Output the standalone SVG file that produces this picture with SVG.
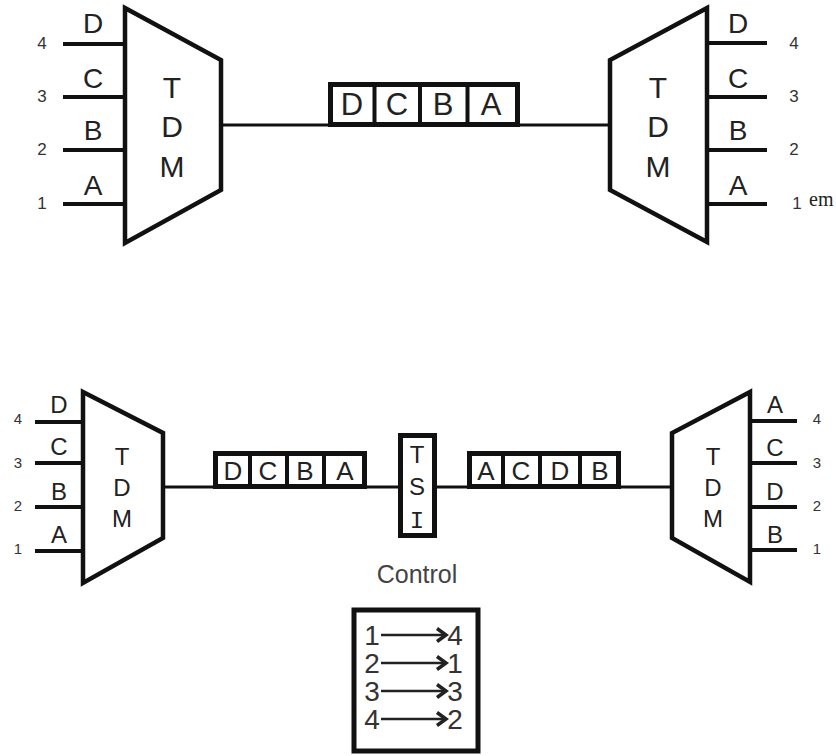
<svg xmlns="http://www.w3.org/2000/svg" width="836" height="756" viewBox="0 0 836 756">
<defs>
<style>
.tdm{fill:#fff;stroke:#111;stroke-width:4.5;stroke-linejoin:miter}
.ln{stroke:#111;stroke-width:4;fill:none}
.wire{stroke:#111;stroke-width:3;fill:none}
.box{fill:#fff;stroke:#111;stroke-width:5}
.t{font-family:"Liberation Sans",Arial,sans-serif;fill:#222;text-anchor:middle}
.big{font-size:30px}
.let{font-size:28px}
.num{font-size:17px;fill:#333}
.sm{font-size:24px}
.snum{font-size:15px;fill:#333}
.cell{font-size:31px}
.scell{font-size:26px}
.arrow{stroke:#222;stroke-width:2.5;fill:none}
</style>
<marker id="ah" markerWidth="14" markerHeight="16" refX="11" refY="8" orient="auto" markerUnits="userSpaceOnUse">
<path d="M2,1.5 L11,8 L2,14.5" fill="none" stroke="#222" stroke-width="3.5"/>
</marker>
</defs>
<rect width="836" height="756" fill="#fff"/>

<g id="connectors">
<line class="wire" x1="221" y1="125" x2="610" y2="125"/>
<line class="wire" x1="163" y1="487" x2="400" y2="487"/>
<line class="wire" x1="435" y1="487" x2="672" y2="487"/>
</g>

<g id="tdm-top-left">
<line class="ln" x1="63" y1="44" x2="125" y2="44"/>
<line class="ln" x1="63" y1="97" x2="125" y2="97"/>
<line class="ln" x1="63" y1="150" x2="125" y2="150"/>
<line class="ln" x1="63" y1="204" x2="125" y2="204"/>
<polygon class="tdm" points="125,8 221,60 221,190 125,243"/>
<text class="t big" x="172" y="98">T</text>
<text class="t big" x="172" y="137">D</text>
<text class="t big" x="172" y="177">M</text>
<text class="t let" x="93" y="33">D</text>
<text class="t let" x="93" y="88">C</text>
<text class="t let" x="93" y="140">B</text>
<text class="t let" x="93" y="195">A</text>
<text class="t num" x="42" y="49">4</text>
<text class="t num" x="42" y="102">3</text>
<text class="t num" x="42" y="155">2</text>
<text class="t num" x="42" y="209">1</text>
</g>

<g id="frame-top">
<rect class="box" x="330.5" y="84.5" width="187" height="40"/>
<line class="ln" x1="374.5" y1="84" x2="374.5" y2="124"/>
<line class="ln" x1="420" y1="84" x2="420" y2="124"/>
<line class="ln" x1="467.5" y1="84" x2="467.5" y2="124"/>
<text class="t cell" x="352" y="115">D</text>
<text class="t cell" x="397" y="115">C</text>
<text class="t cell" x="443" y="115">B</text>
<text class="t cell" x="491" y="115">A</text>
</g>

<g id="tdm-top-right">
<line class="ln" x1="707" y1="43" x2="767" y2="43"/>
<line class="ln" x1="707" y1="97" x2="767" y2="97"/>
<line class="ln" x1="707" y1="150" x2="767" y2="150"/>
<line class="ln" x1="707" y1="204" x2="767" y2="204"/>
<polygon class="tdm" points="707,8 610,60 610,190 707,242"/>
<text class="t big" x="658" y="98">T</text>
<text class="t big" x="658" y="137">D</text>
<text class="t big" x="658" y="177">M</text>
<text class="t let" x="738" y="33">D</text>
<text class="t let" x="738" y="88">C</text>
<text class="t let" x="738" y="140">B</text>
<text class="t let" x="738" y="195">A</text>
<text class="t num" x="794" y="49">4</text>
<text class="t num" x="794" y="102">3</text>
<text class="t num" x="794" y="155">2</text>
<text class="t num" x="797" y="209">1</text>
<text x="809" y="206" font-family="'Liberation Serif',serif" font-size="20" fill="#222">em</text>
</g>

<g id="tdm-bottom-left">
<line class="ln" x1="35" y1="422" x2="83" y2="422"/>
<line class="ln" x1="35" y1="463" x2="83" y2="463"/>
<line class="ln" x1="35" y1="507" x2="83" y2="507"/>
<line class="ln" x1="35" y1="551" x2="83" y2="551"/>
<polygon class="tdm" points="83,392 163,433 163,538 83,583"/>
<text class="t sm" x="122" y="465">T</text>
<text class="t sm" x="122" y="496">D</text>
<text class="t sm" x="122" y="527">M</text>
<text class="t sm" x="59" y="413">D</text>
<text class="t sm" x="59" y="455">C</text>
<text class="t sm" x="59" y="500">B</text>
<text class="t sm" x="59" y="543">A</text>
<text class="t snum" x="18" y="424">4</text>
<text class="t snum" x="18" y="468">3</text>
<text class="t snum" x="18" y="511">2</text>
<text class="t snum" x="18" y="554">1</text>
</g>

<g id="frame-bottom-left">
<rect class="box" x="215.5" y="453.5" width="149" height="33"/>
<line class="ln" x1="250" y1="453" x2="250" y2="487"/>
<line class="ln" x1="287" y1="453" x2="287" y2="487"/>
<line class="ln" x1="324" y1="453" x2="324" y2="487"/>
<text class="t scell" x="233" y="480">D</text>
<text class="t scell" x="268" y="480">C</text>
<text class="t scell" x="305" y="480">B</text>
<text class="t scell" x="345" y="480">A</text>
</g>

<g id="tsi">
<rect class="box" x="400.5" y="435.5" width="34" height="100"/>
<text class="t sm" x="417" y="463">T</text>
<text class="t sm" x="417" y="495">S</text>
<text x="417" y="528" font-family="'Liberation Mono',monospace" font-size="24" fill="#222" text-anchor="middle">I</text>
</g>

<g id="frame-bottom-right">
<rect class="box" x="469.5" y="453.5" width="149" height="33"/>
<line class="ln" x1="503" y1="453" x2="503" y2="487"/>
<line class="ln" x1="540" y1="453" x2="540" y2="487"/>
<line class="ln" x1="580" y1="453" x2="580" y2="487"/>
<text class="t scell" x="486" y="480">A</text>
<text class="t scell" x="521" y="480">C</text>
<text class="t scell" x="560" y="480">D</text>
<text class="t scell" x="600" y="480">B</text>
</g>

<g id="tdm-bottom-right">
<line class="ln" x1="750" y1="421" x2="797" y2="421"/>
<line class="ln" x1="750" y1="463" x2="797" y2="463"/>
<line class="ln" x1="750" y1="507" x2="797" y2="507"/>
<line class="ln" x1="750" y1="550" x2="797" y2="550"/>
<polygon class="tdm" points="750,392 672,433 672,538 750,582"/>
<text class="t sm" x="713" y="465">T</text>
<text class="t sm" x="713" y="496">D</text>
<text class="t sm" x="713" y="527">M</text>
<text class="t sm" x="775" y="413">A</text>
<text class="t sm" x="775" y="456">C</text>
<text class="t sm" x="775" y="500">D</text>
<text class="t sm" x="775" y="543">B</text>
<text class="t snum" x="817" y="424">4</text>
<text class="t snum" x="817" y="468">3</text>
<text class="t snum" x="817" y="511">2</text>
<text class="t snum" x="817" y="554">1</text>
</g>

<g id="control">
<text class="t" x="417" y="583" font-size="25" style="fill:#444">Control</text>
<rect class="box" x="354" y="610" width="124" height="141"/>
<g class="t" font-size="28" style="fill:#333">
<text x="372" y="645">1</text><text x="455" y="645">4</text>
<text x="372" y="673">2</text><text x="455" y="673">1</text>
<text x="372" y="701">3</text><text x="455" y="701">3</text>
<text x="372" y="729">4</text><text x="455" y="729">2</text>
</g>
<line class="arrow" x1="381" y1="635" x2="446" y2="635" marker-end="url(#ah)"/>
<line class="arrow" x1="381" y1="663" x2="446" y2="663" marker-end="url(#ah)"/>
<line class="arrow" x1="381" y1="691" x2="446" y2="691" marker-end="url(#ah)"/>
<line class="arrow" x1="381" y1="719" x2="446" y2="719" marker-end="url(#ah)"/>
</g>
</svg>
